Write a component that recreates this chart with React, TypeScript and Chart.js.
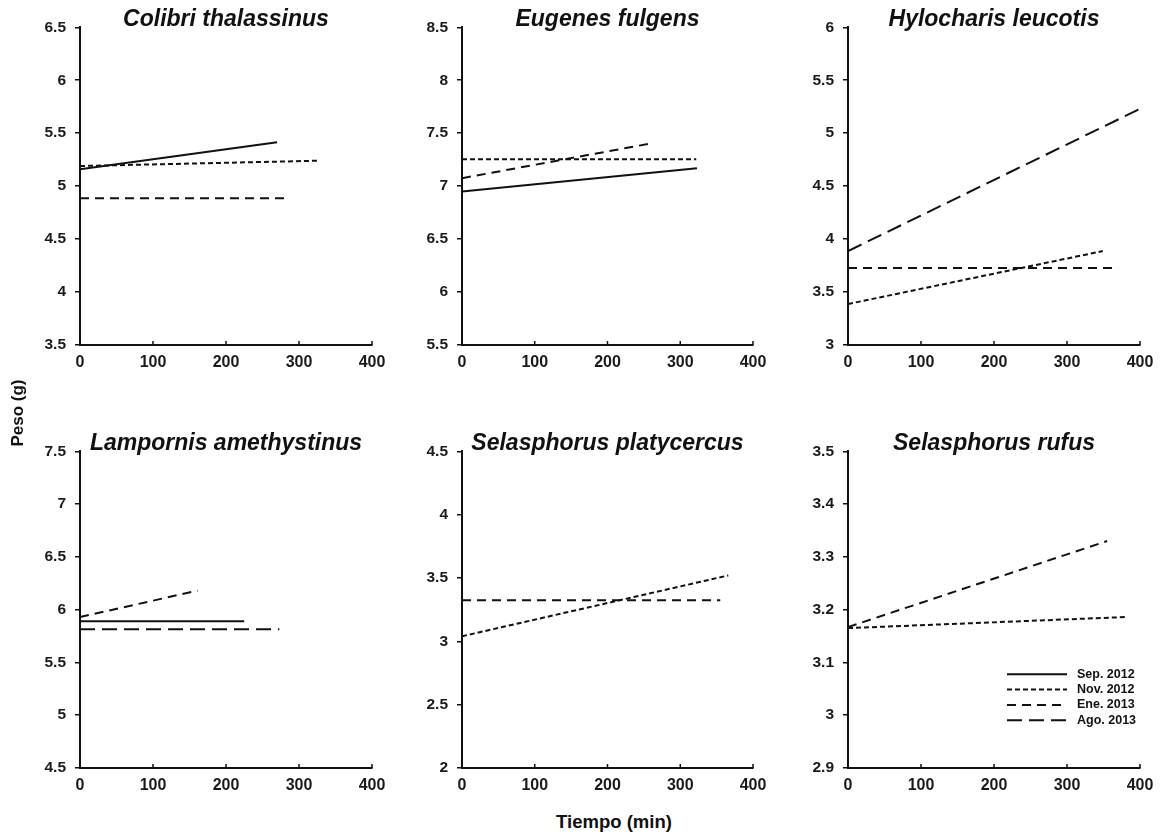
import React, { useEffect, useRef } from "react";
import { Chart, registerables } from "chart.js";

Chart.register(...registerables);

// ---- data ----
const seriesNames = ["Sep. 2012", "Nov. 2012", "Ene. 2013", "Ago. 2013"];
const xTicks = [0, 100, 200, 300, 400];

const titles = [
  "Colibri thalassinus",
  "Eugenes fulgens",
  "Hylocharis leucotis",
  "Lampornis amethystinus",
  "Selasphorus platycercus",
  "Selasphorus rufus",
];

const yTicksColibri = [3.5, 4, 4.5, 5, 5.5, 6, 6.5];
const yTicksEugenes = [5.5, 6, 6.5, 7, 7.5, 8, 8.5];
const yTicksHylocharis = [3, 3.5, 4, 4.5, 5, 5.5, 6];
const yTicksLampornis = [4.5, 5, 5.5, 6, 6.5, 7, 7.5];
const yTicksPlatycercus = [2, 2.5, 3, 3.5, 4, 4.5];
const yTicksRufus = [2.9, 3, 3.1, 3.2, 3.3, 3.4, 3.5];

// each line: [series, t0, y0, t1, y1]
const colibri: [string, number, number, number, number][] = [
  ["Sep. 2012", 0, 5.16, 270, 5.415],
  ["Nov. 2012", 0, 5.19, 326, 5.24],
  ["Ene. 2013", 0, 4.885, 284, 4.885],
];
const eugenes: [string, number, number, number, number][] = [
  ["Sep. 2012", 0, 6.95, 323, 7.17],
  ["Nov. 2012", 0, 7.255, 322, 7.255],
  ["Ene. 2013", 0, 7.075, 261, 7.405],
];
const hylocharis: [string, number, number, number, number][] = [
  ["Ago. 2013", 0, 3.887, 400, 5.23],
  ["Nov. 2012", 0, 3.387, 349, 3.887],
  ["Ene. 2013", 0, 3.726, 370, 3.726],
];
const lampornis: [string, number, number, number, number][] = [
  ["Sep. 2012", 0, 5.89, 225, 5.89],
  ["Ene. 2013", 0, 5.93, 161, 6.18],
  ["Ago. 2013", 0, 5.815, 273, 5.815],
];
const platycercus: [string, number, number, number, number][] = [
  ["Nov. 2012", 0, 3.04, 366, 3.52],
  ["Ene. 2013", 0, 3.325, 355, 3.325],
];
const rufus: [string, number, number, number, number][] = [
  ["Ene. 2013", 0, 3.167, 355, 3.33],
  ["Nov. 2012", 0, 3.165, 380, 3.186],
];

const dashBySeries: Record<string, number[]> = {
  "Sep. 2012": [],
  "Nov. 2012": [5, 3],
  "Ene. 2013": [9, 6],
  "Ago. 2013": [15, 7],
};

const panels = [
  { title: titles[0], lines: colibri, yTicks: yTicksColibri, left: 80, top: 27, w: 292, h: 318, legend: false },
  { title: titles[1], lines: eugenes, yTicks: yTicksEugenes, left: 462, top: 27, w: 291, h: 318, legend: false },
  { title: titles[2], lines: hylocharis, yTicks: yTicksHylocharis, left: 848, top: 27, w: 292, h: 318, legend: false },
  { title: titles[3], lines: lampornis, yTicks: yTicksLampornis, left: 80, top: 451, w: 292, h: 317, legend: false },
  { title: titles[4], lines: platycercus, yTicks: yTicksPlatycercus, left: 462, top: 451, w: 291, h: 317, legend: false },
  { title: titles[5], lines: rufus, yTicks: yTicksRufus, left: 848, top: 451, w: 292, h: 317, legend: true },
];

const PAD_L = 60;
const PAD_T = 15;
const PAD_R = 20;
const PAD_B = 34;
const FONT = "'Liberation Sans', Arial, sans-serif";

const legendPlugin = {
  id: "dashLegend",
  afterDraw(chart: any, _args: any, opts: any) {
    if (!opts || !opts.show) return;
    const ctx = chart.ctx;
    const a = chart.chartArea;
    ctx.save();
    ctx.font = `bold 12.5px ${FONT}`;
    ctx.fillStyle = "#111";
    ctx.textBaseline = "middle";
    seriesNames.forEach((name, i) => {
      const y = a.top + 223 + i * 15.3;
      ctx.beginPath();
      ctx.setLineDash(dashBySeries[name]);
      ctx.strokeStyle = "#111";
      ctx.lineWidth = 2;
      ctx.moveTo(a.left + 159, y);
      ctx.lineTo(a.left + 219, y);
      ctx.stroke();
      ctx.setLineDash([]);
      ctx.fillText(name, a.left + 229, y);
    });
    ctx.restore();
  },
};

// x-axis tick marks point up into the plot in the reference
const innerTicksPlugin = {
  id: "innerXTicks",
  afterDraw(chart: any) {
    const ctx = chart.ctx;
    const xs = chart.scales.x;
    const a = chart.chartArea;
    ctx.save();
    ctx.strokeStyle = "#111";
    ctx.lineWidth = 1.5;
    xs.ticks.forEach((t: any) => {
      const px = xs.getPixelForValue(t.value);
      ctx.beginPath();
      ctx.moveTo(px, a.bottom);
      ctx.lineTo(px, a.bottom - 4);
      ctx.stroke();
    });
    ctx.restore();
  },
};

function Panel({ p }: { p: (typeof panels)[number] }) {
  const ref = useRef<HTMLCanvasElement | null>(null);
  useEffect(() => {
    const canvas = ref.current;
    if (!canvas) return;
    const yMin = p.yTicks[0];
    const yMax = p.yTicks[p.yTicks.length - 1];
    const cw = PAD_L + p.w + PAD_R;
    const ch = PAD_T + p.h + PAD_B;
    const chart = new Chart(canvas, {
      type: "scatter",
      data: {
        datasets: p.lines.map((l) => ({
          label: l[0],
          data: [
            { x: l[1], y: l[2] },
            { x: l[3], y: l[4] },
          ],
          showLine: true,
          borderColor: "#111",
          backgroundColor: "#111",
          borderWidth: 2,
          borderDash: dashBySeries[l[0]],
          pointRadius: 0,
          pointHoverRadius: 0,
        })),
      },
      options: {
        animation: false,
        responsive: false,
        maintainAspectRatio: false,
        devicePixelRatio: 1,
        layout: { padding: { top: PAD_T, right: PAD_R, left: 0, bottom: 0 } },
        plugins: {
          legend: { display: false },
          tooltip: { enabled: false },
          // @ts-ignore
          dashLegend: { show: p.legend },
        },
        scales: {
          x: {
            type: "linear",
            min: 0,
            max: 400,
            afterFit: (s: any) => {
              s.height = PAD_B;
            },
            afterBuildTicks: (s: any) => {
              s.ticks = xTicks.map((v) => ({ value: v }));
            },
            ticks: {
              font: { family: FONT, size: 16, weight: "bold" },
              color: "#1a1a1a",
              padding: 1,
              maxRotation: 0,
              autoSkip: false,
              callback: (v: any) => String(v),
            },
            grid: { drawOnChartArea: false, drawTicks: true, tickLength: 7, color: "rgba(0,0,0,0)", lineWidth: 1.5 },
            border: { display: true, color: "#111", width: 2 },
          },
          y: {
            type: "linear",
            min: yMin,
            max: yMax,
            afterFit: (s: any) => {
              s.width = PAD_L;
            },
            afterBuildTicks: (s: any) => {
              s.ticks = p.yTicks.map((v) => ({ value: v }));
            },
            ticks: {
              font: { family: FONT, size: 15.5, weight: "bold" },
              color: "#1a1a1a",
              padding: 9,
              autoSkip: false,
              callback: (v: any) => String(+Number(v).toFixed(2)),
            },
            grid: { drawOnChartArea: false, drawTicks: true, tickLength: 5, color: "#111", lineWidth: 1.5 },
            border: { display: true, color: "#111", width: 2 },
          },
        },
      },
      plugins: [legendPlugin, innerTicksPlugin],
    } as any);

    // make the plot area exactly the wanted size and place it where wanted
    const a = chart.chartArea;
    const newW = Math.round(cw + (p.w - (a.right - a.left)));
    const newH = Math.round(ch + (p.h - (a.bottom - a.top)));
    chart.resize(newW, newH);
    chart.update();
    const b = chart.chartArea;
    canvas.style.left = `${p.left - b.left}px`;
    canvas.style.top = `${p.top - b.top}px`;
    return () => chart.destroy();
  }, [p]);

  const cw = PAD_L + p.w + PAD_R;
  const ch = PAD_T + p.h + PAD_B;
  return (
    <>
      <canvas
        ref={ref}
        width={cw}
        height={ch}
        style={{ position: "absolute", left: p.left - PAD_L, top: p.top - PAD_T, width: cw, height: ch }}
      />
      <div
        style={{
          position: "absolute",
          left: p.left - 20,
          width: p.w + 40,
          top: p.top - 21,
          textAlign: "center",
          font: `italic bold 23px ${FONT}`,
          color: "#111",
          lineHeight: "24px",
          whiteSpace: "nowrap",
        }}
      >
        {p.title}
      </div>
    </>
  );
}

export default function App() {
  return (
    <div style={{ position: "absolute", left: 0, top: 0, width: 1162, height: 836, background: "#fff", overflow: "hidden" }}>
      {panels.map((p, i) => (
        <Panel key={i} p={p} />
      ))}
      <div
        style={{
          position: "absolute",
          left: 18 - 60,
          top: 413 - 10,
          width: 120,
          height: 20,
          textAlign: "center",
          transform: "rotate(-90deg)",
          font: `bold 17px ${FONT}`,
          lineHeight: "20px",
          color: "#111",
        }}
      >
        Peso (g)
      </div>
      <div
        style={{
          position: "absolute",
          left: 514,
          width: 200,
          top: 811,
          textAlign: "center",
          font: `bold 18.5px ${FONT}`,
          lineHeight: "22px",
          color: "#111",
        }}
      >
        Tiempo (min)
      </div>
    </div>
  );
}
